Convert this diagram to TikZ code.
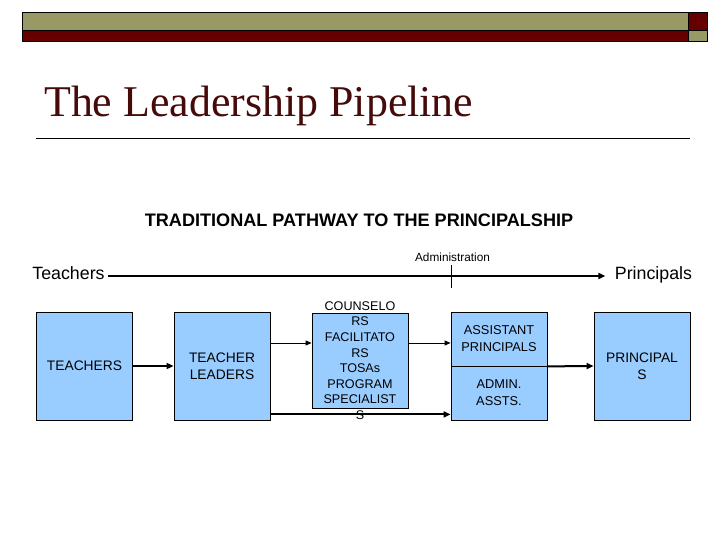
\documentclass[tikz,border=0pt]{standalone}
\usepackage{fontspec}
\setmainfont{Liberation Sans}
\newfontfamily\titlefont{Liberation Serif}
\usetikzlibrary{arrows.meta, positioning, calc}
\definecolor{BarOlive}{RGB}{153, 153, 102}
\definecolor{BarRed}{RGB}{102, 0, 0}
\definecolor{TitleRed}{RGB}{70, 10, 10}
\definecolor{BoxBlue}{RGB}{153, 204, 255}

\begin{document}
\begin{tikzpicture}[x=1pt, y=-1pt,
        box/.style={rectangle, draw=black, line width=0.8pt, fill=BoxBlue, minimum width=96pt, minimum height=108pt, inner sep=0pt, align=center, font=\fontsize{13.8}{17}\selectfont},
        halfbox/.style={box, minimum height=54pt, font=\fontsize{12.8}{17}\selectfont},
        arrow/.style={-{Triangle[length=7pt, width=6pt]}, line width=2pt},
        thinarrow/.style={-{Triangle[length=6pt, width=5pt]}, line width=0.9pt}
    ]
        \useasboundingbox (0,0) rectangle (720,540);

        % Top bar
        \draw[line width=0.8pt, fill=BarOlive] (22,12) rectangle (688,30.5);
        \draw[line width=0.8pt, fill=BarRed] (22,30.5) rectangle (688,41.5);
        \draw[line width=0.8pt, fill=BarRed] (688,12) rectangle (707,30.5);
        \draw[line width=0.8pt, fill=BarOlive] (688,30.5) rectangle (707,41.5);

        % Title
        \node[font=\titlefont\fontsize{43.9}{48}\selectfont, text=TitleRed, anchor=base west, inner sep=0pt] (title) at (44,117) {The Leadership Pipeline};
        \draw[line width=0.9pt] (36,138) -- (690,138);
        \node[font=\bfseries\fontsize{18.1}{20}\selectfont, anchor=base] (pathway) at (359,226) {TRADITIONAL PATHWAY TO THE PRINCIPALSHIP};

        % Teachers -> Principals
        \node[font=\fontsize{17.8}{20}\selectfont, anchor=base] (teachlbl) at (68.5,279.5) {Teachers};
        \node[font=\fontsize{17.8}{20}\selectfont, anchor=base] (prinlbl) at (653.5,279.5) {Principals};
        \coordinate (adm) at (451,276);
        \draw[arrow, shorten >=6pt] (teachlbl.east |- adm) -- (prinlbl.west |- adm);
        \draw[line width=0.8pt] ([yshift=11pt]adm) -- ([yshift=-12pt]adm);
        \node[font=\fontsize{11.8}{14}\selectfont] (admlbl) at (452.5,257) {Administration};

        % Boxes
        \node[box] (teach) at (84.5,366) {TEACHERS};
        \node[box] (lead) at (222,366) {TEACHER\\LEADERS};
        \node[box, minimum height=95pt] (couns) at (360,360.5) {};
        \node[align=center, inner sep=0pt, font=\fontsize{12.6}{15.6}\selectfont] (counstext) at (couns.center) {COUNSELO\\RS\\FACILITATO\\RS\\TOSAs\\PROGRAM\\SPECIALIST\\S};
        \node[halfbox] (assist) at (499,339) {ASSISTANT\\PRINCIPALS};
        \node[halfbox] (admin) at (499,393) {ADMIN.\\ASSTS.};
        \node[box] (prin) at (642,366) {PRINCIPAL\\S};

        % Arrows
        \draw[arrow] (teach) -- (lead);
        \coordinate (upper) at ([yshift=23pt]lead.east);
        \draw[thinarrow] (upper) -- (upper -| couns.west);
        \draw[thinarrow] (couns.east |- upper) -- (upper -| assist.west);
        \coordinate (lower) at ([yshift=6pt]lead.south east);
        \draw[arrow] (lower) -- (lower -| admin.west);
        \draw[arrow] (assist.south east) -- (prin.west);
    \end{tikzpicture}
\end{document}
